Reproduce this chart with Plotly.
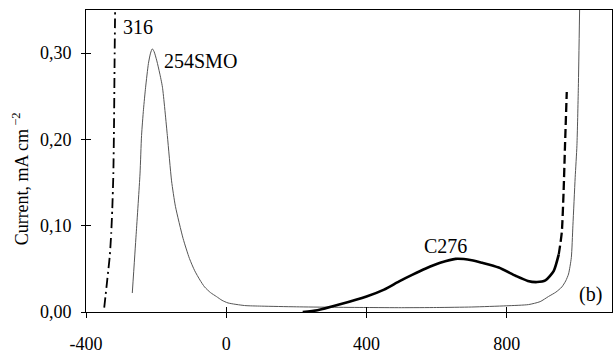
import plotly.graph_objects as go

# Potential (mV) and current density (mA cm^-2) for each alloy
smo_x = [-268, -257, -246, -241.6, -236, -230, -222, -216, -211, -206, -198, -190, -182,
         -168, -156, -145, -123, -105, -90, -75, -62, -45, -28, -12, 5, 52, 100, 200, 300,
         400, 500, 600, 700, 800, 862, 895, 919, 940, 957, 968, 976, 984, 988.5, 995, 1000,
         1004, 1007.6]
smo_y = [0.022, 0.09, 0.16, 0.2045, 0.235, 0.2605, 0.288, 0.300, 0.305, 0.302, 0.291, 0.277,
         0.2605, 0.2045, 0.152, 0.1225, 0.085, 0.062, 0.0478, 0.037, 0.0291, 0.0225, 0.0179,
         0.0135, 0.0105, 0.0075, 0.0068, 0.006, 0.0055, 0.0052, 0.005, 0.0052, 0.0058, 0.0072,
         0.0086, 0.012, 0.018, 0.023, 0.029, 0.036, 0.044, 0.063, 0.10, 0.156, 0.193, 0.26,
         0.35]

s316_x = [-348, -344, -340, -336, -332, -328, -325, -322, -320, -318.5, -317]
s316_y = [0.005, 0.02, 0.035, 0.05, 0.066, 0.092, 0.12, 0.16, 0.22, 0.29, 0.35]

c276_x = [218, 260, 322, 400, 450, 493, 530, 569, 610, 654, 700, 730, 777, 825, 860, 886,
          910, 934, 948]
c276_y = [0.0, 0.002, 0.0086, 0.018, 0.026, 0.0355, 0.043, 0.0504, 0.057, 0.0616, 0.060,
          0.057, 0.0515, 0.042, 0.036, 0.0347, 0.0366, 0.0478, 0.0665]

# transpassive rise of C276, drawn dashed
c276_tr_x = [948, 952, 957, 962, 966, 971]
c276_tr_y = [0.0665, 0.077, 0.093, 0.14, 0.193, 0.255]

x_ticks = [-400, 0, 400, 800]
x_tick_text = ["-400", "0", "400", "800"]
y_ticks = [0.0, 0.1, 0.2, 0.3]
y_tick_text = ["0,00", "0,10", "0,20", "0,30"]

FONT = "Liberation Serif"

fig = go.Figure()
fig.add_trace(go.Scatter(x=smo_x, y=smo_y, mode="lines",
                         line=dict(color="#555555", width=1, shape="spline", smoothing=0.6)))
fig.add_trace(go.Scatter(x=s316_x, y=s316_y, mode="lines",
                         line=dict(color="black", width=1.8, dash="10px,4px,2px,4px",
                                   shape="spline", smoothing=0.6)))
fig.add_trace(go.Scatter(x=c276_x, y=c276_y, mode="lines",
                         line=dict(color="black", width=2.6, shape="spline", smoothing=0.6)))
fig.add_trace(go.Scatter(x=c276_tr_x, y=c276_tr_y, mode="lines",
                         line=dict(color="black", width=2.3, dash="9px,4px",
                                   shape="spline", smoothing=0.6)))

axis_common = dict(showgrid=False, zeroline=False)

fig.update_layout(
    width=615, height=356,
    margin=dict(l=86, r=2, t=10, b=33),
    paper_bgcolor="white", plot_bgcolor="white",
    showlegend=False,
    font=dict(family=FONT, size=18, color="black"),
    xaxis=dict(range=[-400, 1100], tickvals=x_ticks, ticktext=x_tick_text,
               ticks="outside", ticklen=5, tickcolor="black", showline=True,
               linecolor="black", linewidth=1, mirror=True, ticklabelstandoff=10,
               tickfont=dict(family=FONT, size=18), **axis_common),
    yaxis=dict(range=[0, 0.35], tickvals=y_ticks, ticktext=y_tick_text,
               ticks="outside", ticklen=4, tickcolor="black", showline=True,
               linecolor="black", linewidth=1, mirror=True, ticklabelstandoff=6,
               tickfont=dict(family=FONT, size=18), **axis_common),
    # companion axes supply the inner half of each crossing tick
    xaxis2=dict(range=[-400, 1100], tickvals=x_ticks, ticks="inside", ticklen=5,
                tickcolor="black", showticklabels=False, overlaying="x", anchor="y",
                side="bottom", **axis_common),
    yaxis2=dict(range=[0, 0.35], tickvals=y_ticks, ticks="inside", ticklen=5,
                tickcolor="black", showticklabels=False, overlaying="y", anchor="x",
                side="left", **axis_common),
)
# empty trace so the companion axes are drawn
fig.add_trace(go.Scatter(x=[None], y=[None], xaxis="x2", yaxis="y2", showlegend=False))

label_font = dict(family=FONT, size=20, color="black")
fig.add_annotation(x=-300, y=0.330, text="316", showarrow=False, xanchor="left",
                   font=label_font)
fig.add_annotation(x=-184, y=0.291, text="254SMO", showarrow=False, xanchor="left",
                   font=label_font)
fig.add_annotation(x=624, y=0.077, text="C276", showarrow=False, font=label_font)
fig.add_annotation(x=1040, y=0.0198, text="(b)", showarrow=False, font=label_font)
fig.add_annotation(xref="paper", yref="paper", x=-0.125, y=0.44, xanchor="center",
                   yanchor="middle", text="Current, mA cm<sup> −2</sup>", textangle=-90,
                   showarrow=False, font=dict(family=FONT, size=18, color="black"))

fig.write_html("out.html")
